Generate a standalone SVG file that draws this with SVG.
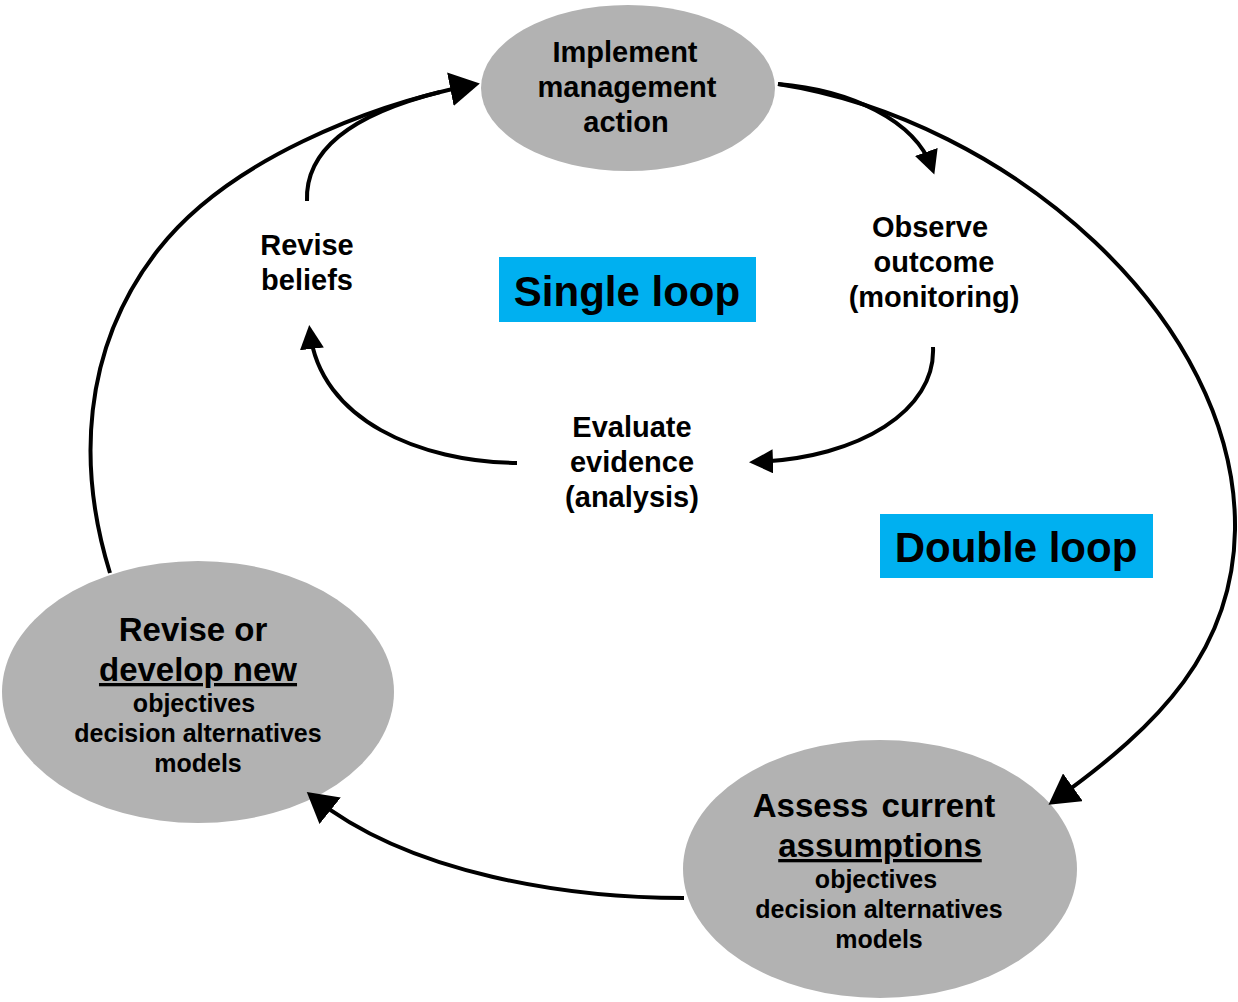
<svg xmlns="http://www.w3.org/2000/svg" width="1238" height="1002" viewBox="0 0 1238 1002">
<style>
text{font-family:"Liberation Sans",Arial,sans-serif;font-weight:bold;fill:#000;text-anchor:middle}
.n{fill:#b2b2b2;stroke:none}
.c{fill:none;stroke:#000;stroke-width:4}
.t28{font-size:29px}
.t33{font-size:33px}
.t25{font-size:25px}
.t41{font-size:42px}
.box{fill:#00b0f0}
</style>
<defs>
<marker id="big" markerUnits="userSpaceOnUse" markerWidth="30" markerHeight="34" refX="22" refY="17" orient="auto"><path d="M0,0 L30,17 L0,34 z" fill="#000"/></marker>
<marker id="small" markerUnits="userSpaceOnUse" markerWidth="24" markerHeight="24" refX="17" refY="12" orient="auto"><path d="M0,0 L24,12 L0,24 z" fill="#000"/></marker>
</defs>
<g id="node-implement">
<ellipse class="n" cx="628" cy="88" rx="147" ry="83"/>
<text class="t28" x="625" y="62">Implement</text>
<text class="t28" x="627" y="97">management</text>
<text class="t28" x="626" y="132">action</text>
</g>
<g id="node-revise">
<ellipse class="n" cx="198" cy="692" rx="196" ry="131"/>
<text class="t33" x="193" y="641">Revise or</text>
<text class="t33" x="198" y="681" text-decoration="underline">develop new</text>
<text class="t25" x="194" y="712">objectives</text>
<text class="t25" x="198" y="742">decision alternatives</text>
<text class="t25" x="198" y="772">models</text>
</g>
<g id="node-assess">
<ellipse class="n" cx="880" cy="869" rx="197" ry="129"/>
<text class="t33" x="874" y="817" word-spacing="4">Assess current</text>
<text class="t33" x="880" y="857" text-decoration="underline">assumptions</text>
<text class="t25" x="876" y="888">objectives</text>
<text class="t25" x="879" y="918">decision alternatives</text>
<text class="t25" x="879" y="948">models</text>
</g>
<g id="label-revise-beliefs">
<text class="t28" x="307" y="255">Revise</text>
<text class="t28" x="307" y="290">beliefs</text>
</g>
<g id="label-observe">
<text class="t28" x="930" y="237">Observe</text>
<text class="t28" x="934" y="272">outcome</text>
<text class="t28" x="934" y="307">(monitoring)</text>
</g>
<g id="label-evaluate">
<text class="t28" x="632" y="437">Evaluate</text>
<text class="t28" x="632" y="472">evidence</text>
<text class="t28" x="632" y="507">(analysis)</text>
</g>
<g id="label-single">
<rect class="box" x="499" y="257" width="257" height="65"/>
<text class="t41" x="627" y="306">Single loop</text>
</g>
<g id="label-double">
<rect class="box" x="880" y="514" width="273" height="64"/>
<text class="t41" x="1016" y="562">Double loop</text>
</g>
<g id="connectors">
<path class="c" d="M778 84 C1010 120 1238 320 1235 530 C1233 650 1160 725 1055 800" marker-end="url(#big)"/>
<path class="c" d="M684 898 C570 898 410 875 313 797" marker-end="url(#big)"/>
<path class="c" d="M110 573 C78 470 80 350 158 250 C228 160 370 105 472 85" marker-end="url(#big)"/>
<path class="c" d="M307 201 C305 150 353 114 440 92"/>
<path class="c" d="M778 84 C850 90 915 120 932 168" marker-end="url(#small)"/>
<path class="c" d="M933 347 C936 410 860 458 756 462" marker-end="url(#small)"/>
<path class="c" d="M517 463 C420 462 320 420 310 332" marker-end="url(#small)"/>
</g>
</svg>
